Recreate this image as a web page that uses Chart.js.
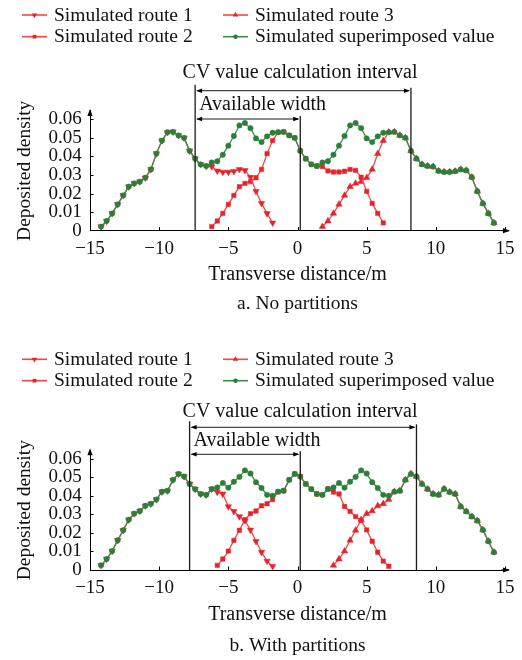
<!DOCTYPE html>
<html><head><meta charset="utf-8">
<script src="https://cdn.jsdelivr.net/npm/chart.js@4.4.1/dist/chart.umd.min.js"></script>
<style>body{margin:0;background:#fff}canvas{display:block}</style>
</head><body>
<canvas id="ca" width="522" height="330"></canvas>
<canvas id="cb" width="522" height="330"></canvas>
<script>
const N = null;
const seriesNames = ['Simulated route 1','Simulated route 2','Simulated route 3','Simulated superimposed value'];
const xTickLabels = [-15,-10,-5,0,5,10,15];
const yTickLabels = [0,0.01,0.02,0.03,0.04,0.05,0.06];
const xValues = [-14.2,-13.8,-13.4,-13.0,-12.6,-12.2,-11.8,-11.4,-11.0,-10.6,-10.2,-9.8,-9.4,-9.0,-8.6,-8.2,-7.8,-7.4,-7.0,-6.6,
 -6.2,-5.8,-5.4,-5.0,-4.6,-4.2,-3.8,-3.4,-3.0,-2.6,-2.2,-1.8,-1.4,-1.0,-0.6,-0.2,0.2,0.6,1.0,1.4,
 1.8,2.2,2.6,3.0,3.4,3.8,4.2,4.6,5.0,5.4,5.8,6.2,6.6,7.0,7.4,7.8,8.2,8.6,9.0,9.4,
 9.8,10.2,10.6,11.0,11.4,11.8,12.2,12.6,13.0,13.4,13.8,14.2];

// ---- a. No partitions ----
const route1A = [0.0022,0.0052,0.0093,0.0142,0.0190,0.0237,0.0255,0.0264,0.0285,0.0330,0.0415,0.0485,0.0530,0.0532,0.0513,0.0500,0.0430,0.0388,0.0357,0.0348,
 0.0345,0.0322,0.0316,0.0316,0.0320,0.0330,0.0325,0.0288,0.0212,0.0147,0.0093,0.0042,N,N,N,N,N,N,N,N,
 N,N,N,N,N,N,N,N,N,N,N,N,N,N,N,N,N,N,N,N,
 N,N,N,N,N,N,N,N,N,N,N,N];
const route2A = [N,N,N,N,N,N,N,N,N,N,N,N,N,N,N,N,N,N,N,N,
 0.0022,0.0052,0.0093,0.0142,0.0190,0.0237,0.0255,0.0264,0.0285,0.0330,0.0415,0.0485,0.0530,0.0532,0.0513,0.0500,0.0430,0.0388,0.0357,0.0348,
 0.0345,0.0322,0.0316,0.0316,0.0320,0.0330,0.0325,0.0288,0.0212,0.0147,0.0093,0.0042,N,N,N,N,N,N,N,N,
 N,N,N,N,N,N,N,N,N,N,N,N];
const route3A = [N,N,N,N,N,N,N,N,N,N,N,N,N,N,N,N,N,N,N,N,
 N,N,N,N,N,N,N,N,N,N,N,N,N,N,N,N,N,N,N,N,
 0.0022,0.0052,0.0093,0.0142,0.0190,0.0237,0.0255,0.0264,0.0285,0.0330,0.0415,0.0485,0.0530,0.0532,0.0513,0.0500,0.0430,0.0388,0.0357,0.0348,
 0.0345,0.0322,0.0316,0.0316,0.0320,0.0330,0.0325,0.0288,0.0212,0.0147,0.0093,0.0042];
const sumA = [0.0022,0.0052,0.0093,0.0142,0.0190,0.0237,0.0255,0.0264,0.0285,0.0330,0.0415,0.0485,0.0530,0.0532,0.0513,0.0500,0.0430,0.0388,0.0357,0.0348,
 0.0367,0.0374,0.0409,0.0458,0.0510,0.0567,0.0580,0.0552,0.0497,0.0477,0.0508,0.0527,0.0530,0.0532,0.0513,0.0500,0.0430,0.0388,0.0357,0.0348,
 0.0367,0.0374,0.0409,0.0458,0.0510,0.0567,0.0580,0.0552,0.0497,0.0477,0.0508,0.0527,0.0530,0.0532,0.0513,0.0500,0.0430,0.0388,0.0357,0.0348,
 0.0345,0.0322,0.0316,0.0316,0.0320,0.0330,0.0325,0.0288,0.0212,0.0147,0.0093,0.0042];
const cvIntervalA = [-7.4, 8.2];
const availWidthA = [-7.4, 0.2];

// ---- b. With partitions ----
const route1B = [0.0025,0.0059,0.0102,0.0160,0.0214,0.0271,0.0304,0.0318,0.0346,0.0357,0.0380,0.0422,0.0427,0.0486,0.0518,0.0504,0.0464,0.0436,0.0410,0.0405,
 0.0437,0.0420,0.0410,0.0342,0.0316,0.0288,0.0266,0.0216,0.0155,0.0096,0.0048,0.0020,N,N,N,N,N,N,N,N,
 N,N,N,N,N,N,N,N,N,N,N,N,N,N,N,N,N,N,N,N,
 N,N,N,N,N,N,N,N,N,N,N,N];
const route2B = [N,N,N,N,N,N,N,N,N,N,N,N,N,N,N,N,N,N,N,N,
 N,0.0025,0.0059,0.0102,0.0160,0.0214,0.0271,0.0304,0.0318,0.0346,0.0357,0.0380,0.0422,0.0427,0.0486,0.0518,0.0504,0.0464,0.0436,0.0410,
 0.0405,0.0437,0.0420,0.0410,0.0342,0.0316,0.0288,0.0266,0.0216,0.0155,0.0096,0.0048,0.0020,N,N,N,N,N,N,N,
 N,N,N,N,N,N,N,N,N,N,N,N];
const route3B = [N,N,N,N,N,N,N,N,N,N,N,N,N,N,N,N,N,N,N,N,
 N,N,N,N,N,N,N,N,N,N,N,N,N,N,N,N,N,N,N,N,
 N,N,0.0025,0.0059,0.0102,0.0160,0.0214,0.0271,0.0304,0.0318,0.0346,0.0357,0.0380,0.0422,0.0427,0.0486,0.0518,0.0504,0.0464,0.0436,
 0.0410,0.0405,0.0437,0.0420,0.0410,0.0342,0.0316,0.0288,0.0266,0.0216,0.0155,0.0096];
const sumB = [0.0025,0.0059,0.0102,0.0160,0.0214,0.0271,0.0304,0.0318,0.0346,0.0357,0.0380,0.0422,0.0427,0.0486,0.0518,0.0504,0.0464,0.0436,0.0410,0.0405,
 0.0437,0.0445,0.0469,0.0444,0.0476,0.0502,0.0537,0.0520,0.0473,0.0442,0.0405,0.0400,0.0422,0.0427,0.0486,0.0518,0.0504,0.0464,0.0436,0.0410,
 0.0405,0.0437,0.0445,0.0469,0.0444,0.0476,0.0502,0.0537,0.0520,0.0473,0.0442,0.0405,0.0400,0.0422,0.0427,0.0486,0.0518,0.0504,0.0464,0.0436,
 0.0410,0.0405,0.0437,0.0420,0.0410,0.0342,0.0316,0.0288,0.0266,0.0216,0.0155,0.0096];
const cvIntervalB = [-7.8, 8.6];
const availWidthB = [-7.8, 0.2];

const SERIF = "'Liberation Serif', 'Times New Roman', serif";
const RED_LINE = '#f24848', RED_PT = '#e8222a', GREEN_LINE = '#3d8d49', GREEN_PT = '#2e7e3b';

function fmtX(v){ return v < 0 ? '\u2212' + Math.abs(v) : String(v); }
function fmtY(v){ return v === 0 ? '0' : v.toFixed(2); }

function drawMarker(ctx, style, x, y, r, rot, color){
  ctx.fillStyle = color;
  ctx.beginPath();
  if (style === 'circle') { ctx.arc(x, y, r, 0, Math.PI*2); }
  else if (style === 'rect') { const s = r*Math.SQRT1_2; ctx.rect(x-s, y-s, 2*s, 2*s); }
  else {
    let a = rot*Math.PI/180;
    for (let i=0;i<3;i++){ const px = x+Math.sin(a)*r, py = y-Math.cos(a)*r; if(i===0) ctx.moveTo(px,py); else ctx.lineTo(px,py); a += 2*Math.PI/3; }
    ctx.closePath();
  }
  ctx.fill();
}

function arrowHead(ctx, tx, ty, dir, len, half){
  // dir: 'left','right','up'
  ctx.beginPath();
  if (dir==='left'){ ctx.moveTo(tx,ty); ctx.lineTo(tx+len,ty-half); ctx.lineTo(tx+len,ty+half); }
  else if (dir==='right'){ ctx.moveTo(tx,ty); ctx.lineTo(tx-len,ty-half); ctx.lineTo(tx-len,ty+half); }
  else { ctx.moveTo(tx,ty); ctx.lineTo(tx-half,ty+len); ctx.lineTo(tx+half,ty+len); }
  ctx.closePath(); ctx.fill();
}

const seriesStyles = {
  sum:    {line: GREEN_LINE, pt: GREEN_PT, style:'circle', r:2.7, rot:0},
  route1: {line: RED_LINE, pt: RED_PT, style:'triangle', r:3.7, rot:180},
  route2: {line: RED_LINE, pt: RED_PT, style:'rect', r:3.1, rot:0},
  route3: {line: RED_LINE, pt: RED_PT, style:'triangle', r:3.7, rot:0}
};

function makeChart(id, d, cfg){
  const mk = (arr, key, name) => {
    const s = seriesStyles[key];
    return {
      label: name,
      data: xValues.map((v,i)=>({x:v, y:arr[i]})),
      borderColor: s.line, backgroundColor: s.pt, borderWidth: 1.3,
      pointStyle: s.style, pointRadius: s.r, pointRotation: s.rot,
      pointBackgroundColor: s.pt, pointBorderColor: s.pt, pointBorderWidth: 0.5,
      tension: 0, spanGaps: false, fill: false
    };
  };
  const datasets = [
    mk(d.sum, 'sum', seriesNames[3]),
    mk(d.r1, 'route1', seriesNames[0]),
    mk(d.r2, 'route2', seriesNames[1]),
    mk(d.r3, 'route3', seriesNames[2])
  ];
  const overlay = {
    id: 'overlay'+id,
    afterDraw(chart){
      const {ctx, chartArea:{left,right,top,bottom}, scales:{x,y}} = chart;
      ctx.save();
      ctx.strokeStyle = '#000'; ctx.fillStyle = '#000'; ctx.lineWidth = 1;
      // inward tick marks
      xTickLabels.forEach(v=>{ if (v===xTickLabels[0]) return; const px=Math.round(x.getPixelForValue(v))+0.5;
        ctx.beginPath(); ctx.moveTo(px,bottom); ctx.lineTo(px,bottom-3.5); ctx.stroke(); });
      yTickLabels.forEach(v=>{ if (v===0) return; const py=Math.round(y.getPixelForValue(v))+0.5;
        ctx.beginPath(); ctx.moveTo(left,py); ctx.lineTo(left+3.5,py); ctx.stroke(); });
      // axis arrows
      arrowHead(ctx, left, top-2, 'up', 7, 2.6);
      ctx.beginPath(); ctx.moveTo(right-4, bottom); ctx.lineTo(right+4, bottom); ctx.stroke();
      arrowHead(ctx, right+5, bottom, 'right', 7, 2.6);
      // interval lines
      const xl = x.getPixelForValue(cfg.cv[0]), xr = x.getPixelForValue(cfg.cv[1]);
      const xm = x.getPixelForValue(cfg.avail[1]);
      const yCv = bottom + cfg.cvArrow, yAv = bottom + cfg.availArrow;
      ctx.strokeStyle = '#1a1a1a'; ctx.lineWidth = 1.3;
      [[xl, yCv-6],[xr, yCv-3],[xm, yAv-3]].forEach(([px,t])=>{
        ctx.beginPath(); ctx.moveTo(px,t); ctx.lineTo(px,bottom); ctx.stroke(); });
      ctx.lineWidth = 1;
      [[xl,xr,yCv],[xl,xm,yAv]].forEach(([a,b,yy])=>{
        ctx.beginPath(); ctx.moveTo(a+2,yy); ctx.lineTo(b-2,yy); ctx.stroke();
        arrowHead(ctx, a+1, yy, 'left', 6, 2.2);
        arrowHead(ctx, b-1, yy, 'right', 6, 2.2);
      });
      ctx.fillStyle = '#111';
      ctx.font = '20px ' + SERIF; ctx.textBaseline = 'middle';
      ctx.textAlign = 'center';
      ctx.fillText('CV value calculation interval', (xl+xr)/2 - 3, bottom + cfg.cvText);
      ctx.textAlign = 'left';
      ctx.fillText('Available width', xl + 4, bottom + cfg.availText);
      // caption
      ctx.textAlign = 'center'; ctx.font = '19.5px ' + SERIF;
      ctx.fillText(cfg.caption, (left+right)/2, cfg.captionY);
      // legend
      const items = [
        ['route1', seriesNames[0], 22, cfg.legendY[0]],
        ['route3', seriesNames[2], 223, cfg.legendY[0]],
        ['route2', seriesNames[1], 22, cfg.legendY[1]],
        ['sum', seriesNames[3], 223, cfg.legendY[1]]
      ];
      ctx.font = '19.5px ' + SERIF; ctx.textAlign = 'left';
      items.forEach(([k,name,x0,yy])=>{
        const s = seriesStyles[k];
        ctx.strokeStyle = s.line; ctx.lineWidth = 1.6;
        ctx.beginPath(); ctx.moveTo(x0,yy); ctx.lineTo(x0+25,yy); ctx.stroke();
        drawMarker(ctx, s.style, x0+12.5, yy, s.r*0.85, s.rot, s.pt);
        ctx.fillStyle = '#111';
        ctx.fillText(name, x0+32, yy+0.5);
      });
      ctx.restore();
    }
  };
  return new Chart(document.getElementById(id), {
    type: 'line',
    data: { datasets },
    options: {
      responsive: false, animation: false, events: [],
      layout: { padding: { left: 0, right: 17, top: cfg.top, bottom: 0 } },
      plugins: { legend: { display: false }, tooltip: { enabled: false } },
      scales: {
        x: {
          type: 'linear', min: -15, max: 15,
          afterBuildTicks: s => { s.ticks = xTickLabels.map(v=>({value:v})); },
          afterFit: s => { s.height = cfg.xHeight; },
          grid: { display: false, drawTicks: false },
          border: { display: true, color: '#000', width: 1 },
          ticks: { autoSkip: false, maxRotation: 0, padding: 6.5, color: '#111',
                   font: { family: SERIF, size: 19 }, callback: v => fmtX(v) },
          title: { display: true, text: 'Transverse distance/m', color: '#111',
                   font: { family: SERIF, size: 20 }, padding: { top: 0, bottom: cfg.xTitlePad } }
        },
        y: {
          type: 'linear', min: 0, max: 0.0645,
          afterBuildTicks: s => { s.ticks = yTickLabels.map(v=>({value:v})); },
          afterFit: s => { s.width = 90; },
          grid: { display: false, drawTicks: false },
          border: { display: true, color: '#000', width: 1 },
          ticks: { autoSkip: false, padding: 8.3, color: '#111',
                   font: { family: SERIF, size: 19 }, callback: v => fmtY(v) },
          title: { display: true, text: 'Deposited density', color: '#111',
                   font: { family: SERIF, size: 19.5 }, padding: { top: 13.3, bottom: 0 } }
        }
      }
    },
    plugins: [overlay]
  });
}

makeChart('ca', {r1: route1A, r2: route2A, r3: route3A, sum: sumA}, {
  cv: cvIntervalA, avail: availWidthA, top: 110.9, xHeight: 99.3, xTitlePad: 43.5,
  cvArrow: -140, cvText: -157.7, availArrow: -111.7, availText: -125.7,
  caption: 'a. No partitions', captionY: 304, legendY: [15, 36.7]
});
makeChart('cb', {r1: route1B, r2: route2B, r3: route3B, sum: sumB}, {
  cv: cvIntervalB, avail: availWidthB, top: 120.35, xHeight: 90, xTitlePad: 33.5,
  cvArrow: -142.7, cvText: -158.3, availArrow: -115.7, availText: -129.3,
  caption: 'b. With partitions', captionY: 315.5, legendY: [29.3, 50.7]
});
</script>
</body></html>
